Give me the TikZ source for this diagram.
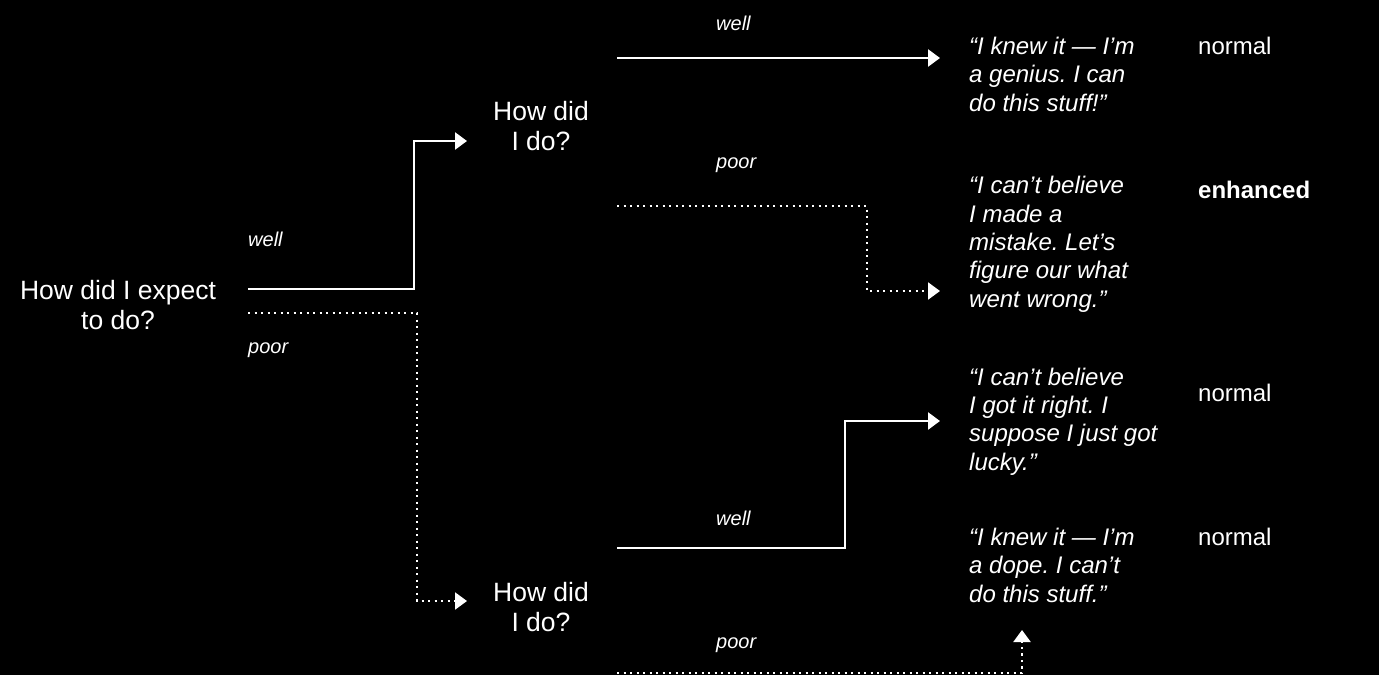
\documentclass[tikz,border=0pt]{standalone}
\usepackage{fontspec}
\setmainfont{Liberation Sans}
\usetikzlibrary{arrows.meta}
\frenchspacing
\begin{document}
\begin{tikzpicture}[x=1pt,y=-1pt,
  mainq/.style={font=\fontsize{26.5}{30}\selectfont, align=center, text=white, inner sep=0, anchor=base},
  quote/.style={font=\fontsize{24}{28.3}\selectfont\itshape, align=left, anchor=base west, inner sep=0, text=white},
  lab/.style={font=\fontsize{20}{22}\selectfont\itshape, anchor=base west, inner sep=0, text=white},
  res/.style={font=\fontsize{24}{28}\selectfont, anchor=base west, inner sep=0, text=white},
  solidc/.style={draw=white, line width=2.6pt, line join=miter, -{Triangle[length=12pt,width=17pt]}},
  dotc/.style={draw=white, line width=2.2pt, line join=miter, dash pattern=on 2.2pt off 4.3pt, -{Triangle[length=12pt,width=17pt]}}]
\fill[black] (0,0) rectangle (1379,675);
\useasboundingbox (0,0) rectangle (1379,675);

% main questions (anchor = baseline of last line)
\node[mainq] (q0) at (118,329) {How did I expect\\to do?};
\node[mainq] (q1) at (541,150) {How did\\I do?};
\node[mainq] (q2) at (541,631) {How did\\I do?};

% branch labels
\node[lab] (l0w) at (248,246) {well};
\node[lab] (l0p) at (248,353) {poor};
\node[lab] (l1w) at (716,30) {well};
\node[lab] (l1p) at (716,168) {poor};
\node[lab] (l2w) at (716,525) {well};
\node[lab] (l2p) at (716,648) {poor};

% quotes (anchor = baseline of last line)
\node[quote] (r1) at (969,111) {“I knew it — I’m\\a genius. I can\\do this stuff!”};
\node[quote] (r2) at (969,307) {“I can’t believe\\I made a\\mistake. Let’s\\figure our what\\went wrong.”};
\node[quote] (r3) at (969,470) {“I can’t believe\\I got it right. I\\suppose I just got\\lucky.”};
\node[quote] (r4) at (969,602) {“I knew it — I’m\\a dope. I can’t\\do this stuff.”};

% results
\node[res] (e1) at (1198,54) {normal};
\node[res, font=\fontsize{24}{28}\selectfont\bfseries] (e2) at (1198,198) {enhanced};
\node[res] (e3) at (1198,401) {normal};
\node[res] (e4) at (1198,545) {normal};

% connector ends
\coordinate (s1) at (248,289);
\coordinate (s2) at (248,313);
\coordinate (t1) at (467,141);
\coordinate (t2) at (467,601);
\coordinate (a1) at (617,58);
\coordinate (a2) at (617,206);
\coordinate (a3) at (617,548);
\coordinate (a4) at (617,673);
\coordinate (tq1) at (940,58);
\coordinate (tq2) at (940,291);
\coordinate (tq3) at (940,421);
\coordinate (tq4) at (1022,630);

\draw[solidc] (s1) -- ++(166,0) |- (t1);
\draw[dotc] (s2) -- ++(169,0) |- (t2);
\draw[solidc] (a1) -- (tq1);
\draw[dotc] (a2) -- ++(250,0) |- (tq2);
\draw[solidc] (a3) -- ++(228,0) |- (tq3);
\draw[dotc] (a4) -| (tq4);
\end{tikzpicture}
\end{document}
